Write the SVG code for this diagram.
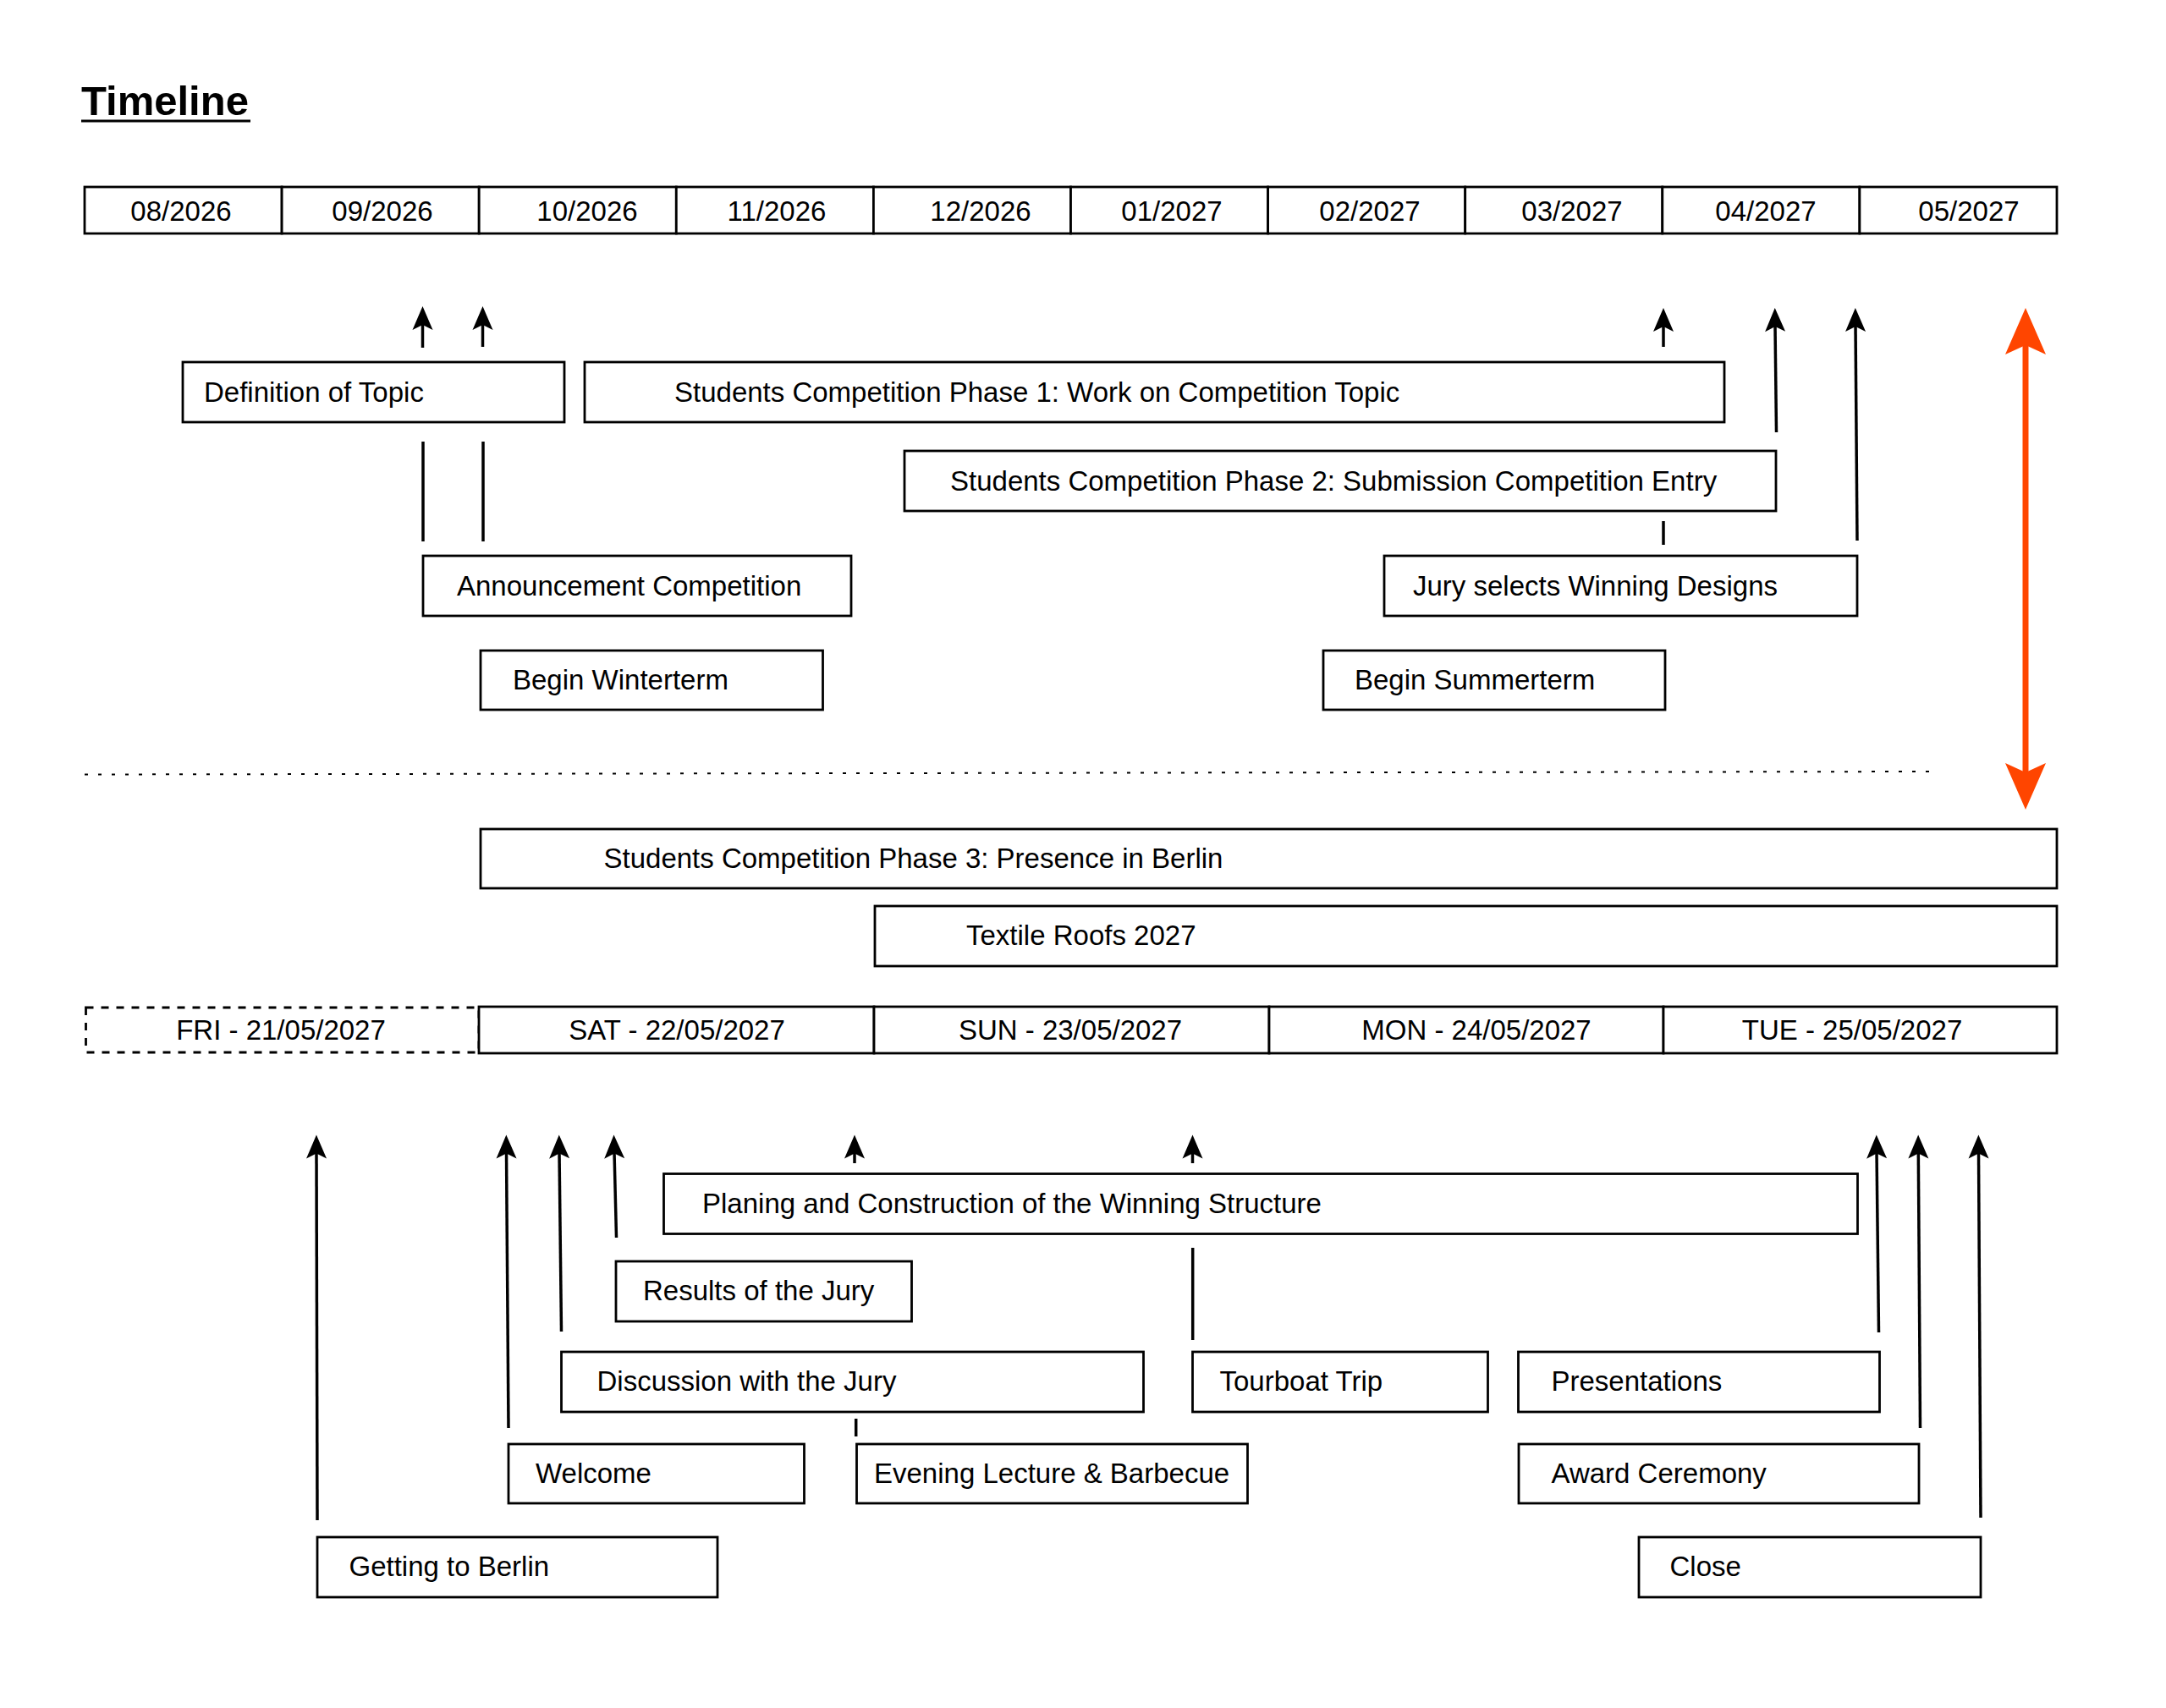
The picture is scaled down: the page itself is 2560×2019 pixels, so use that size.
<svg xmlns="http://www.w3.org/2000/svg" width="2560" height="2019" viewBox="0 0 2560 2019">
<style>
  .box { fill: #ffffff; stroke: #000000; stroke-width: 2.8; }
  .dbox { fill: #ffffff; stroke: #000000; stroke-width: 2.8; stroke-dasharray: 9 9; }
  .t { font-family: "Liberation Sans", Arial, sans-serif; font-size: 33px; fill: #000000; }
  .tc { font-family: "Liberation Sans", Arial, sans-serif; font-size: 33px; fill: #000000; text-anchor: middle; }
  .title { font-family: "Liberation Sans", Arial, sans-serif; font-size: 49px; font-weight: bold; fill: #000000; }
  .arr { stroke: #000000; stroke-width: 3.5; fill: none; marker-end: url(#ah); }
  .seg { stroke: #000000; stroke-width: 3.5; fill: none; }
  .red { stroke: #FF4500; stroke-width: 7; fill: none; marker-start: url(#rh); marker-end: url(#rh); }
  .dots { stroke: #000000; stroke-width: 2; stroke-dasharray: 4 12; fill: none; }
</style>
<defs>
  <marker id="ah" markerUnits="userSpaceOnUse" markerWidth="32" markerHeight="28" viewBox="-30 -14 32 28" refX="-20" refY="0" orient="auto" overflow="visible">
    <path d="M0,0 L-28,-12 L-22,0 L-28,12 Z" fill="#000000"/>
  </marker>
  <marker id="rh" markerUnits="userSpaceOnUse" markerWidth="60" markerHeight="52" viewBox="-58 -26 60 52" refX="-40" refY="0" orient="auto-start-reverse" overflow="visible">
    <path d="M0,0 L-55,-24 L-44,0 L-55,24 Z" fill="#FF4500"/>
  </marker>
</defs>
<rect x="0" y="0" width="2560" height="2019" fill="#ffffff"/>

<g id="title">
  <text class="title" x="96" y="136">Timeline</text>
  <line x1="96" y1="143" x2="296" y2="143" stroke="#000000" stroke-width="3"/>
</g>

<g id="months">
  <rect class="box" x="100" y="221" width="233.1" height="55"/>
  <rect class="box" x="333.1" y="221" width="233.1" height="55"/>
  <rect class="box" x="566.2" y="221" width="233.1" height="55"/>
  <rect class="box" x="799.3" y="221" width="233.1" height="55"/>
  <rect class="box" x="1032.4" y="221" width="233.1" height="55"/>
  <rect class="box" x="1265.5" y="221" width="233.1" height="55"/>
  <rect class="box" x="1498.6" y="221" width="233.1" height="55"/>
  <rect class="box" x="1731.7" y="221" width="233.1" height="55"/>
  <rect class="box" x="1964.8" y="221" width="233.1" height="55"/>
  <rect class="box" x="2197.9" y="221" width="233.1" height="55"/>
  <text class="tc" x="214" y="261">08/2026</text>
  <text class="tc" x="452" y="261">09/2026</text>
  <text class="tc" x="694" y="261">10/2026</text>
  <text class="tc" x="918" y="261">11/2026</text>
  <text class="tc" x="1159" y="261">12/2026</text>
  <text class="tc" x="1385" y="261">01/2027</text>
  <text class="tc" x="1619" y="261">02/2027</text>
  <text class="tc" x="1858" y="261">03/2027</text>
  <text class="tc" x="2087" y="261">04/2027</text>
  <text class="tc" x="2327" y="261">05/2027</text>
</g>

<g id="connectors">
  <line class="arr" x1="499.5" y1="411" x2="499.5" y2="382"/>
  <line class="arr" x1="570.5" y1="410" x2="570.5" y2="382"/>
  <line class="arr" x1="1966" y1="410" x2="1966" y2="384"/>
  <line class="arr" x1="2099.5" y1="511" x2="2098" y2="384"/>
  <line class="arr" x1="2195" y1="639" x2="2193" y2="384"/>
  <line class="seg" x1="500" y1="522" x2="500" y2="640"/>
  <line class="seg" x1="571" y1="522" x2="571" y2="640"/>
  <line class="seg" x1="1966" y1="616" x2="1966" y2="644"/>
  <line class="red" x1="2394" y1="404" x2="2394" y2="917"/>
  <line class="dots" x1="100" y1="915.5" x2="2282" y2="912"/>

  <line class="arr" x1="375" y1="1797" x2="374" y2="1361.5"/>
  <line class="arr" x1="601" y1="1688" x2="598.5" y2="1361.5"/>
  <line class="arr" x1="663.5" y1="1574" x2="661" y2="1361.5"/>
  <line class="arr" x1="728.5" y1="1463" x2="726" y2="1361.5"/>
  <line class="arr" x1="1010" y1="1375" x2="1010" y2="1361.5"/>
  <line class="arr" x1="1409.5" y1="1375" x2="1409.5" y2="1361.5"/>
  <line class="arr" x1="2220.5" y1="1575" x2="2218" y2="1361.5"/>
  <line class="arr" x1="2269.5" y1="1688" x2="2267.3" y2="1361.5"/>
  <line class="arr" x1="2341" y1="1794" x2="2338.5" y2="1361.5"/>
  <line class="seg" x1="1409.7" y1="1475" x2="1409.7" y2="1584"/>
  <line class="seg" x1="1011.7" y1="1677" x2="1011.7" y2="1698"/>
</g>

<g id="definition-of-topic">
  <rect class="box" x="216" y="428" width="451" height="71"/>
  <text class="t" x="241" y="475">Definition of Topic</text>
</g>
<g id="phase-1">
  <rect class="box" x="691" y="428" width="1347" height="71"/>
  <text class="t" x="797" y="475">Students Competition Phase 1: Work on Competition Topic</text>
</g>
<g id="phase-2">
  <rect class="box" x="1069" y="533" width="1030" height="71"/>
  <text class="t" x="1123" y="580">Students Competition Phase 2: Submission Competition Entry</text>
</g>
<g id="announcement-competition">
  <rect class="box" x="500" y="657" width="506" height="71"/>
  <text class="t" x="540" y="704">Announcement Competition</text>
</g>
<g id="jury-selects">
  <rect class="box" x="1636" y="657" width="559" height="71"/>
  <text class="t" x="1670" y="704">Jury selects Winning Designs</text>
</g>
<g id="begin-winterterm">
  <rect class="box" x="568" y="769" width="404.5" height="70"/>
  <text class="t" x="606" y="815">Begin Winterterm</text>
</g>
<g id="begin-summerterm">
  <rect class="box" x="1564" y="769" width="404" height="70"/>
  <text class="t" x="1601" y="815">Begin Summerterm</text>
</g>

<g id="phase-3">
  <rect class="box" x="568" y="980" width="1863" height="70"/>
  <text class="t" x="713.5" y="1026">Students Competition Phase 3: Presence in Berlin</text>
</g>
<g id="textile-roofs">
  <rect class="box" x="1034" y="1071" width="1397" height="71"/>
  <text class="t" x="1142" y="1117">Textile Roofs 2027</text>
</g>

<g id="days">
  <rect class="dbox" x="101.5" y="1191" width="464.5" height="53"/>
  <rect class="box" x="566" y="1190" width="467" height="55"/>
  <rect class="box" x="1033" y="1190" width="467" height="55"/>
  <rect class="box" x="1500" y="1190" width="466" height="55"/>
  <rect class="box" x="1966" y="1190" width="465" height="55"/>
  <text class="tc" x="332" y="1229">FRI - 21/05/2027</text>
  <text class="tc" x="800" y="1229">SAT - 22/05/2027</text>
  <text class="tc" x="1265" y="1229">SUN - 23/05/2027</text>
  <text class="tc" x="1745" y="1229">MON - 24/05/2027</text>
  <text class="tc" x="2189" y="1229">TUE - 25/05/2027</text>
</g>

<g id="planing-construction">
  <rect class="box" x="784.5" y="1387.5" width="1411" height="71"/>
  <text class="t" x="830" y="1434">Planing and Construction of the Winning Structure</text>
</g>
<g id="results-of-the-jury">
  <rect class="box" x="728" y="1491" width="349.5" height="71"/>
  <text class="t" x="760" y="1537">Results of the Jury</text>
</g>
<g id="discussion-with-the-jury">
  <rect class="box" x="663.5" y="1598" width="688" height="71"/>
  <text class="t" x="705.5" y="1644">Discussion with the Jury</text>
</g>
<g id="tourboat-trip">
  <rect class="box" x="1409.5" y="1598" width="349" height="71"/>
  <text class="t" x="1441.5" y="1644">Tourboat Trip</text>
</g>
<g id="presentations">
  <rect class="box" x="1794.5" y="1598" width="427" height="71"/>
  <text class="t" x="1833.5" y="1644">Presentations</text>
</g>
<g id="welcome">
  <rect class="box" x="601" y="1707" width="349.5" height="70"/>
  <text class="t" x="633" y="1753">Welcome</text>
</g>
<g id="evening-lecture">
  <rect class="box" x="1012.5" y="1707" width="462" height="70"/>
  <text class="t" x="1033" y="1753">Evening Lecture &amp; Barbecue</text>
</g>
<g id="award-ceremony">
  <rect class="box" x="1795" y="1707" width="473" height="70"/>
  <text class="t" x="1833.5" y="1753">Award Ceremony</text>
</g>
<g id="getting-to-berlin">
  <rect class="box" x="375" y="1817" width="473" height="71"/>
  <text class="t" x="412.5" y="1863">Getting to Berlin</text>
</g>
<g id="close">
  <rect class="box" x="1937" y="1817" width="404" height="71"/>
  <text class="t" x="1973.5" y="1863">Close</text>
</g>
</svg>
